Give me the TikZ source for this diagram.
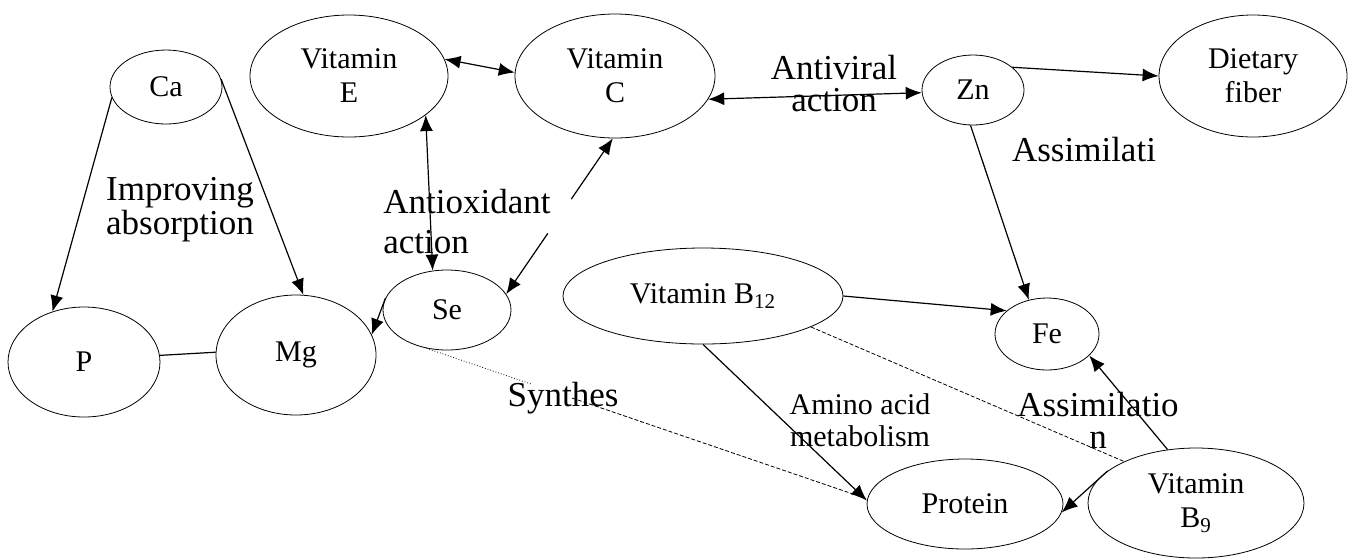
\documentclass[tikz,border=0pt]{standalone}
\usepackage{fontspec}
\setmainfont{Liberation Serif}
\usetikzlibrary{shapes.geometric,arrows.meta,calc}

\tikzset{
	nutrient/.style={ellipse, draw, line width=0.4pt, inner sep=0pt, align=center, font=\fontsize{15}{17}\selectfont},
	effect/.style={inner sep=0pt, align=center, font=\fontsize{17.5}{15.5}\selectfont},
	link/.style={line width=0.6pt},
	oneway/.style={-{Latex[length=8pt,width=6.5pt]}},
	twoway/.style={{Latex[length=8pt,width=6.5pt]}-{Latex[length=8pt,width=6.5pt]}},
	faint/.style={line width=0.4pt, dash pattern=on 2pt off 1pt}
}

\begin{document}
\begin{tikzpicture}[x=0.5pt,y=-0.5pt]
	\useasboundingbox (0,0) rectangle (1354,559);

	% minerals
	\node[nutrient, minimum width=56pt, minimum height=37pt] (ca) at (166,87) {Ca};
	\node[nutrient, minimum width=76pt, minimum height=55pt] (p) at (84,362) {P};
	\node[nutrient, minimum width=80pt, minimum height=60pt] (mg) at (296,355) {\raisebox{3pt}{Mg}};
	\node[nutrient, minimum width=64pt, minimum height=40pt] (se) at (447,310) {Se};
	\node[nutrient, minimum width=51pt, minimum height=35pt] (zn) at (973,90) {Zn};
	\node[nutrient, minimum width=52pt, minimum height=36pt] (fe) at (1047,334) {Fe};

	% vitamins
	\node[nutrient, minimum width=99pt, minimum height=61pt] (vite) at (349,76) {Vitamin\\E};
	\node[nutrient, minimum width=100pt, minimum height=62pt] (vitc) at (615,76) {Vitamin\\C};
	\node[nutrient, minimum width=140pt, minimum height=48pt] (vitbb) at (703,296) {Vitamin B\textsubscript{12}};
	\node[nutrient, minimum width=108pt, minimum height=55pt] (vitb) at (1196,503) {Vitamin\\B\textsubscript{9}};

	% fiber and protein
	\node[nutrient, minimum width=94pt, minimum height=61pt] (fiber) at (1253,76) {Dietary\\fiber};
	\node[nutrient, minimum width=98pt, minimum height=45pt] (protein) at (965,504) {Protein};

	% effects
	\node[effect] (improve) at (180,210) {Improving\\absorption};
	\node[effect, align=left, anchor=west, font=\fontsize{17.5}{20}\selectfont] (antiox) at (383,222) {Antioxidant\\action};
	\node[effect, font=\fontsize{17.5}{16}\selectfont] (antivir) at (834,84) {Antiviral\\action};
	\node[effect] (assim) at (1084,150) {Assimilati};
	\node[effect] (synth) at (563,398) {Synthes};
	\node[effect, font=\fontsize{15}{16}\selectfont] (amino) at (860,420) {Amino acid\\metabolism};
	\node[effect, font=\fontsize{17.5}{16}\selectfont] (assimb) at (1098,420) {Assimilatio\\n};

	% Ca, P, Mg
	\draw[link, oneway] (ca.191) -- (p.122);
	\draw[link, oneway] (ca.8) -- (mg.83);
	\draw[link] (p.5) -- (mg.178);

	% antioxidant
	\draw[link, twoway] (vite.10) -- (vitc.178);
	\draw[link, twoway] (vite.333) -- (se.110);
	\draw[link, oneway] ($(se.15)!0.61!(vitc.268)$) -- (vitc.268);
	\draw[link, oneway] ($(se.15)!0.39!(vitc.268)$) -- (se.15);
	\draw[link, oneway] (se.169) -- (mg.15);

	% antiviral
	\draw[link, twoway] (vitc.346) -- (zn.183);
	\draw[link, oneway] (zn.30) -- (fiber.180);
	\draw[link, oneway] (zn.266) -- (fe.118);

	% synthesis
	\draw[line width=0.4pt, densely dotted] (se.242) -- ($(se.242)!0.24!(protein.177)$);
	\draw[faint] ($(se.242)!0.33!(protein.177)$) -- (protein.177);

	% B vitamins
	\draw[link, oneway] (vitbb.0) -- (fe.150);
	\draw[link, oneway] (vitbb.270) -- (protein.178);
	\draw[faint] (vitbb.344) -- (vitb.150);
	\draw[link, oneway] (vitb.118) -- (fe.333);
	\draw[link, oneway] (vitb.160) -- (protein.355);

\end{tikzpicture}
\end{document}
